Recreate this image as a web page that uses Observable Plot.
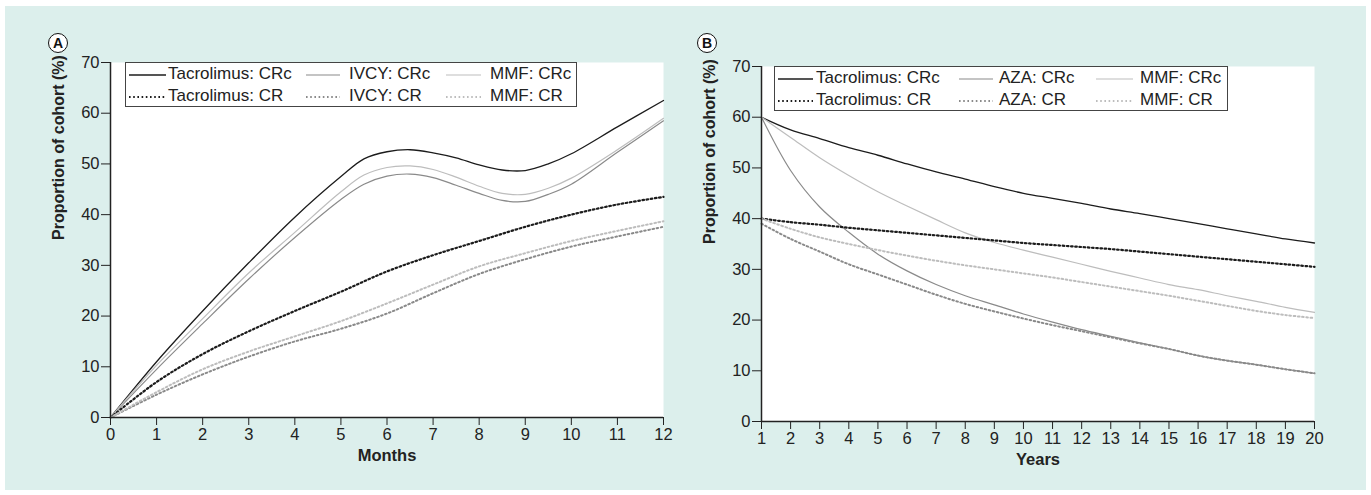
<!DOCTYPE html>
<html><head>
<meta charset="utf-8">
<script src="https://cdn.jsdelivr.net/npm/d3@7"></script>
<script src="https://cdn.jsdelivr.net/npm/@observablehq/plot@0.6"></script>
<style>
body{margin:0;background:#fff;width:1371px;height:495px;overflow:hidden;position:relative;font-family:"Liberation Sans",Arial,Helvetica,sans-serif;color:#222;}
#bg{position:absolute;left:5px;top:6px;width:1361px;height:484px;background:#dcefec;}
.panel{position:absolute;top:0;}
.tag{position:absolute;width:18px;height:18px;border:1.4px solid #111;border-radius:50%;background:#fff;font:bold 14px "Liberation Sans",Arial,sans-serif;text-align:center;line-height:18px;color:#111;}
.legend{position:absolute;border:1px solid #444;background:#fff;box-sizing:border-box;}
.item{position:absolute;left:0;top:0;font-size:17px;white-space:nowrap;line-height:20px;}
.item svg{position:absolute;}
</style>
</head><body>
<div id="bg"></div>
<div id="root"></div>
<script>
// ---------- Panel A data (months) ----------
const monthsSolid = [0,1,2,3,4,5,5.5,6,6.5,7,7.5,8,8.5,9,9.5,10,11,12];
const tacCRcA  = [0,11,21,30.5,39.5,47.5,51,52.4,52.8,52.2,51.2,49.8,48.8,48.7,50,52,57.3,62.5];
const ivcyCRcA = [0,9.5,18.5,27.3,35.5,43,46,47.6,48,47.3,45.8,44.2,42.8,42.6,44,46,52.3,58.5];
const mmfCRcA  = [0,10.3,19.5,28.5,36.5,44.5,47.8,49.3,49.6,48.9,47.4,45.6,44.2,44,45.2,47.2,52.8,59];
const monthsDot = [0,1,2,3,4,5,6,7,8,9,10,11,12];
const tacCRA  = [0,7,12.5,17,21,24.8,28.8,32,34.8,37.6,40,42,43.5];
const ivcyCRA = [0,4.5,8.5,12,15,17.5,20.5,24.5,28.3,31.2,33.7,35.7,37.6];
const mmfCRA  = [0,5,9.5,13,16,19,22.5,26.2,29.8,32.4,34.8,36.8,38.7];
const monthTicks = [0,1,2,3,4,5,6,7,8,9,10,11,12];

// ---------- Panel B data (years) ----------
const years = [1,2,3,4,5,6,7,8,9,10,11,12,13,14,15,16,17,18,19,20];
const tacCRcB = [60,57.5,55.8,54,52.5,50.8,49.2,47.8,46.3,45,44,43,41.9,41,40,39,38,37,36,35.2];
const azaCRcB = [60,49.5,42.3,37.3,33,29.7,27,24.8,23,21.2,19.6,18.1,16.8,15.5,14.3,13,12,11.2,10.3,9.5];
const mmfCRcB = [60,56,52,48.5,45.3,42.5,39.8,37.2,35.3,33.8,32.4,31,29.6,28.3,27,26,24.8,23.7,22.5,21.5];
const tacCRB  = [40,39.3,38.8,38.2,37.7,37.2,36.7,36.2,35.7,35.2,34.8,34.4,34,33.5,33,32.5,32,31.5,31,30.5];
const azaCRB  = [39,36,33.5,31,29,27,25,23.2,21.7,20.3,19,17.8,16.6,15.4,14.3,13,12,11.2,10.3,9.5];
const mmfCRB  = [40,38,36.3,35,33.8,32.7,31.7,30.8,30,29.2,28.4,27.5,26.6,25.7,24.8,23.8,22.8,21.8,21,20.4];
const yearTicks = years;
const yTicks = [0,10,20,30,40,50,60,70];

const yLabel = "Proportion of cohort (%)";
const legendA = ["Tacrolimus: CRc","IVCY: CRc","MMF: CRc","Tacrolimus: CR","IVCY: CR","MMF: CR"];
const legendB = ["Tacrolimus: CRc","AZA: CRc","MMF: CRc","Tacrolimus: CR","AZA: CR","MMF: CR"];

const BLACK="#1c1c1c", MID="#8a8a8a", LIGHT="#bdbdbd";
const styles = [
  {stroke:BLACK, strokeWidth:1.3},
  {stroke:MID, strokeWidth:1.2},
  {stroke:LIGHT, strokeWidth:1.2},
  {stroke:BLACK, strokeWidth:2.2, strokeDasharray:"1.6 2.6"},
  {stroke:MID, strokeWidth:2, strokeDasharray:"1.6 2.6"},
  {stroke:LIGHT, strokeWidth:2, strokeDasharray:"1.6 2.6"}
];
const FONT = '"Liberation Sans",Arial,Helvetica,sans-serif';

function rows(xs, ys){ return xs.map((x,i)=>({x, y: ys[i]})); }

function makePanel(cfg){
  const lines = cfg.series.map((s,i)=>Plot.line(rows(s.x, s.y), {x:"x", y:"y", curve:"catmull-rom", ...styles[i]}));
  return Plot.plot({
    width: cfg.width, height: 495,
    marginLeft: cfg.ml, marginRight: cfg.mr, marginTop: cfg.mt, marginBottom: cfg.mb,
    style: {fontFamily: FONT, fontSize: "16px", color:"#222", background:"transparent", overflow:"visible"},
    x: {domain: cfg.xDomain},
    y: {domain: [0,70]},
    marks: [
      Plot.frame({fill:"white", stroke:"none"}),
      ...lines,
      Plot.axisX({ticks: cfg.xTicks, tickSize:8, tickPadding:3, label:null, tickFormat:d=>String(d), fontSize:16.5}),
      Plot.axisY({ticks: yTicks, tickSize:9, tickPadding:2, label:null, fontSize:16.5}),
      Plot.ruleX([cfg.xDomain[0]], {stroke:"#222", strokeWidth:1.5}),
      Plot.ruleY([0], {stroke:"#222", strokeWidth:1.5}),
      Plot.text([yLabel], {frameAnchor:"left", dx: cfg.ytdx, rotate:-90, fontWeight:"bold", fontSize:16, fill:"#222"}),
      Plot.text([cfg.xTitle], {frameAnchor:"bottom", dy: cfg.xtdy, fontWeight:"bold", fontSize:16.5, fill:"#222"})
    ]
  });
}

const root = document.getElementById("root");
function addPanel(plot, left){
  const d = document.createElement("div");
  d.className="panel"; d.style.left = left+"px";
  d.appendChild(plot); root.appendChild(d);
}

// Panel A: plot area x 110..663, y 62..417
addPanel(makePanel({
  width:690, ml:110, mr:27, mt:62, mb:78, xDomain:[0,12], xTicks:monthTicks,
  xTitle:"Months", ytdx:-52, xtdy:43,
  series:[
    {x:monthsSolid, y:tacCRcA},{x:monthsSolid, y:ivcyCRcA},{x:monthsSolid, y:mmfCRcA},
    {x:monthsDot, y:tacCRA},{x:monthsDot, y:ivcyCRA},{x:monthsDot, y:mmfCRA}
  ]
}), 0);

// Panel B: plot area x 761..1314, y 66..421
addPanel(makePanel({
  width:681, ml:71, mr:57, mt:66, mb:74, xDomain:[1,20], xTicks:yearTicks,
  xTitle:"Years", ytdx:-52, xtdy:43,
  series:[
    {x:years, y:tacCRcB},{x:years, y:azaCRcB},{x:years, y:mmfCRcB},
    {x:years, y:tacCRB},{x:years, y:azaCRB},{x:years, y:mmfCRB}
  ]
}), 690);

function tag(letter, x, y){
  const t = document.createElement("div");
  t.className="tag"; t.textContent=letter;
  t.style.left=(x-10)+"px"; t.style.top=(y-10)+"px";
  root.appendChild(t);
}
tag("A", 58, 43);
tag("B", 707, 43);

function legend(labels, box, cols){
  const L = document.createElement("div");
  L.className="legend";
  Object.assign(L.style,{left:box.x+"px", top:box.y+"px", width:box.w+"px", height:box.h+"px"});
  labels.forEach((lab,i)=>{
    const c = cols[i%3], r = Math.floor(i/3);
    const cy = r===0 ? 11 : 33;   // row centre inside the box
    const st = styles[i];
    const len = c.ew - c.sw;
    const sw = document.createElementNS("http://www.w3.org/2000/svg","svg");
    sw.setAttribute("width", len); sw.setAttribute("height", 6);
    sw.style.position="absolute"; sw.style.left=(c.sw-box.x-1)+"px"; sw.style.top=(cy-2)+"px";
    sw.innerHTML = `<line x1="0" x2="${len}" y1="3" y2="3" stroke="${st.stroke}" stroke-width="${st.strokeWidth}" ${st.strokeDasharray?`stroke-dasharray="${st.strokeDasharray}"`:""}/>`;
    L.appendChild(sw);
    const tx = document.createElement("div");
    tx.className="item"; tx.textContent = lab;
    tx.style.left=(c.tx-box.x-1)+"px"; tx.style.top=(cy-10)+"px";
    L.appendChild(tx);
  });
  root.appendChild(L);
}
legend(legendA, {x:125, y:62, w:452, h:45}, [{sw:129, ew:166, tx:168},{sw:306, ew:340, tx:349},{sw:446, ew:481, tx:490}]);
legend(legendB, {x:774, y:66, w:454, h:45}, [{sw:778, ew:813, tx:816},{sw:959, ew:993, tx:999},{sw:1096, ew:1133, tx:1140}]);
</script>
</body></html>
